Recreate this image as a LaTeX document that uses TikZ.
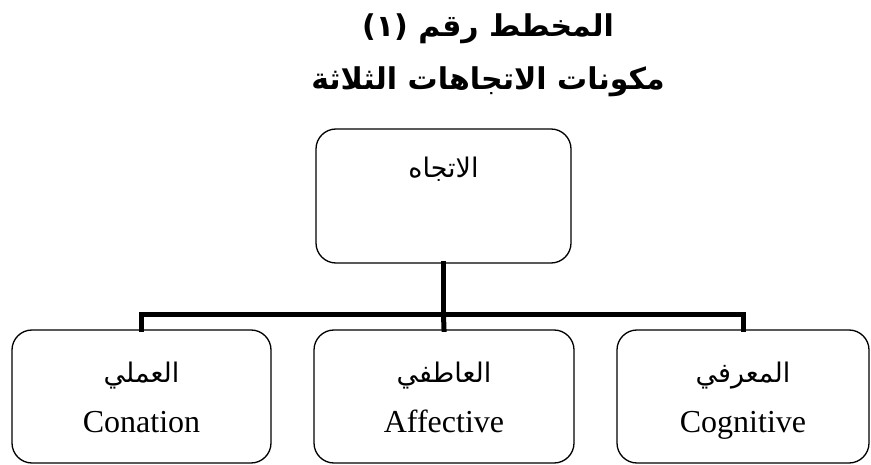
\documentclass[tikz,border=0pt]{standalone}
\usepackage{fontspec}
\setmainfont{Liberation Serif}
\newfontfamily\arabicfont[Script=Arabic]{DejaVu Sans}
\TeXXeTstate=1
\usepackage{tikz}

\tikzset{
	roundbox/.style={draw=black, line width=1.3pt, rounded corners=20pt, inner sep=0pt, minimum height=133pt},
	busline/.style={draw=black, line width=5pt, line join=miter, line cap=rect},
	latintext/.style={anchor=base, inner sep=0pt, font=\fontsize{32}{36}\selectfont},
	arabictext/.style={anchor=base, inner sep=0pt, font=\fontsize{27}{30}\selectfont\arabicfont},
	titletext/.style={anchor=base, inner sep=0pt, font=\fontsize{30}{36}\selectfont\arabicfont\bfseries}
}

\begin{document}
\begin{tikzpicture}[x=1pt, y=-1pt]
	\useasboundingbox (0,0) rectangle (871,465);
	% titles
	\node[titletext] (title) at (488,37) {\beginR المخطط رقم (١)\endR};
	\node[titletext] (subtitle) at (488,90) {\beginR مكونات الاتجاهات الثلاثة\endR};

	% top box
	\node[roundbox, minimum width=255pt, minimum height=134pt] (attitude) at (443.5,196) {};
	\node[arabictext] (attlabel) at (443.5,178) {\beginR الاتجاه\endR};

	% three components
	\node[roundbox, minimum width=259pt] (conation) at (141.5,396.5) {};
	\node[roundbox, minimum width=260pt] (affective) at (444,396.5) {};
	\node[roundbox, minimum width=252pt] (cognitive) at (743,396.5) {};

	\node[arabictext] (conar) at (141.5,382) {\beginR العملي\endR};
	\node[latintext] (conen) at (141.5,432) {Conation};
	\node[arabictext] (affar) at (444,382) {\beginR العاطفي\endR};
	\node[latintext] (affen) at (444,432) {Affective};
	\node[arabictext] (cogar) at (743,382) {\beginR المعرفي\endR};
	\node[latintext] (cogen) at (743,432) {Cognitive};

	% connectors
	\coordinate (bus) at (attitude.south |- 0,315);
	\draw[busline] (attitude.south) -- (bus);
	\draw[busline] (conation.north) -- ++(0,-15) -| (cognitive.north);
	\draw[busline] (bus) -- (affective.north);
\end{tikzpicture}
\end{document}
